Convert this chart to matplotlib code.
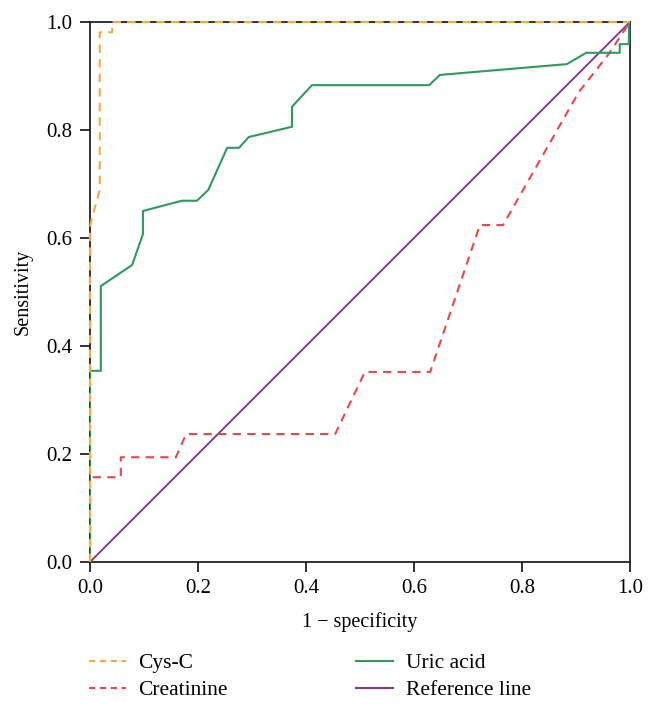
import matplotlib
matplotlib.use("Agg")
import matplotlib.pyplot as plt
from matplotlib.lines import Line2D

# ---- data ----
cys_x = [0.0, 0.0, 0.003, 0.018, 0.018, 0.041, 0.041, 1.0]
cys_y = [0.0, 0.62, 0.635, 0.689, 0.981, 0.981, 1.0, 1.0]

crea_x = [0.0, 0.0, 0.057, 0.057, 0.159, 0.178, 0.454, 0.509, 0.630, 0.722, 0.765, 0.905, 0.960, 1.0]
crea_y = [0.0, 0.157, 0.157, 0.194, 0.194, 0.237, 0.237, 0.352, 0.352, 0.624, 0.624, 0.870, 0.940, 1.0]

uric_x = [0.0, 0.0, 0.020, 0.020, 0.078, 0.098, 0.098, 0.170, 0.198, 0.219, 0.254, 0.276, 0.294,
          0.374, 0.374, 0.411, 0.628, 0.648, 0.883, 0.919, 0.981, 0.981, 0.998, 0.998]
uric_y = [0.0, 0.354, 0.354, 0.511, 0.550, 0.607, 0.650, 0.669, 0.669, 0.689, 0.767, 0.767, 0.787,
          0.806, 0.843, 0.883, 0.883, 0.902, 0.922, 0.943, 0.943, 0.959, 0.959, 1.0]

ref_x = [0.0, 1.0]
ref_y = [0.0, 1.0]

ticks = [0.0, 0.2, 0.4, 0.6, 0.8, 1.0]
tick_labels = ["0.0", "0.2", "0.4", "0.6", "0.8", "1.0"]

c_cys = "#F4A947"
c_crea = "#E8474E"
c_uric = "#2E9A60"
c_ref = "#7D3C92"

plt.rcParams['font.family'] = ['Liberation Serif', 'DejaVu Serif']

fig = plt.figure(figsize=(6.57, 7.08), dpi=100)
ax = fig.add_axes([90/657, 1 - 562/708, 540/657, 540/708])

ax.plot(ref_x, ref_y, color=c_ref, lw=1.4, zorder=2)
ax.plot(crea_x, crea_y, color=c_crea, lw=1.5, dashes=(4, 3), zorder=3)
ax.plot(uric_x, uric_y, color=c_uric, lw=1.5, zorder=4)
ax.plot(cys_x, cys_y, color=c_cys, lw=1.5, dashes=(4, 3), zorder=5, clip_on=False)

ax.set_xlim(0, 1)
ax.set_ylim(0, 1)
ax.set_xticks(ticks)
ax.set_xticklabels(tick_labels)
ax.set_yticks(ticks)
ax.set_yticklabels(tick_labels)
for s in ax.spines.values():
    s.set_linewidth(1.3)
    s.set_color("#222222")
    s.set_zorder(1)
ax.tick_params(direction='out', length=7.5, width=1.3, labelsize=15, pad=5, color="#222222")
ax.set_xlabel("1 \u2212 specificity", fontsize=14.5, labelpad=10)
ax.set_ylabel("Sensitivity", fontsize=14.5, labelpad=10)

h_cys = Line2D([], [], color=c_cys, lw=1.5, dashes=(3, 2.2))
h_crea = Line2D([], [], color=c_crea, lw=1.5, dashes=(3, 2.2))
h_uric = Line2D([], [], color=c_uric, lw=1.5)
h_ref = Line2D([], [], color=c_ref, lw=1.5)

common = dict(loc='upper left', frameon=False, fontsize=15.5, borderpad=0, borderaxespad=0,
              handlelength=1.7, handletextpad=0.6, labelspacing=0.33)
leg1 = fig.legend([h_cys, h_crea], ["Cys-C", "Creatinine"],
                  bbox_to_anchor=(89/657, 1 - 653/708), **common)
leg2 = fig.legend([h_uric, h_ref], ["Uric acid", "Reference line"],
                  bbox_to_anchor=(356/657, 1 - 653/708), **common)

fig.savefig("out.png", dpi=100)
